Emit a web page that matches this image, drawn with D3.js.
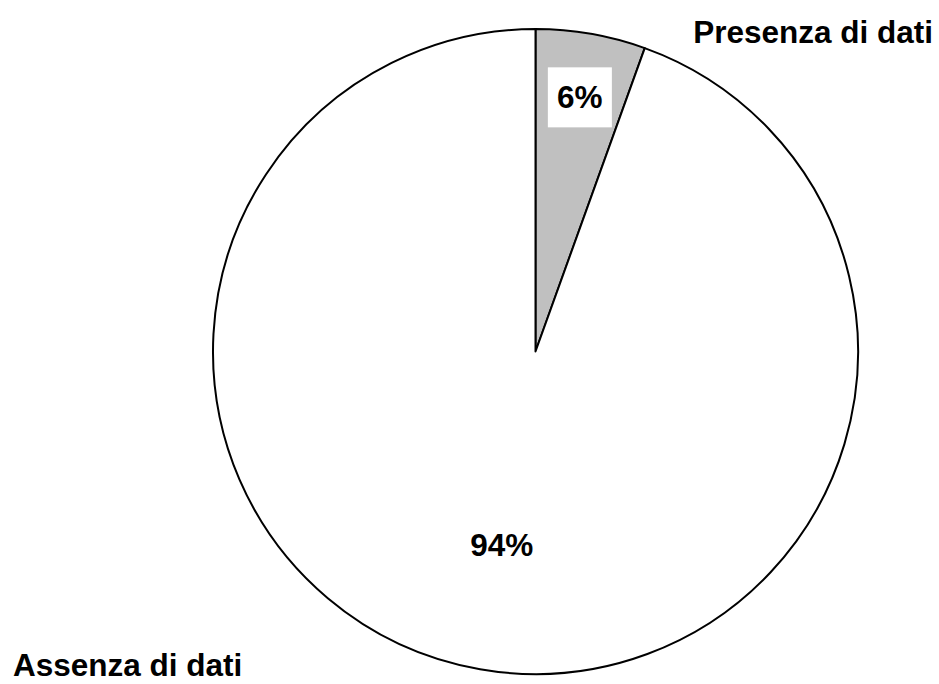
<!DOCTYPE html>
<html><head><meta charset="utf-8">
<script src="https://cdn.jsdelivr.net/npm/d3@7"></script>
<style>html,body{margin:0;padding:0;background:#fff;}svg{display:block;}</style>
</head><body>
<svg id="chart" width="939" height="684"></svg>
<script>
const categories = ["Presenza di dati", "Assenza di dati"];
const values = [5.5, 94.5];
const pctLabels = ["6%", "94%"];
const colors = ["#c0c0c0", "#ffffff"];

const svg = d3.select("#chart");
const cx = 535.5, cy = 351.5, r = 322.5;
const g = svg.append("g").attr("transform", `translate(${cx},${cy})`);

const pie = d3.pie().sort(null).value(d => d)(values);
const arc = d3.arc().innerRadius(0).outerRadius(r);

g.selectAll("path.slice").data(pie).enter().append("path")
  .attr("class", "slice")
  .attr("d", arc)
  .attr("fill", (d, i) => colors[i])
  .attr("stroke", "#000").attr("stroke-width", 2).attr("stroke-linejoin", "round");

const labelFactor = [0.8, 0.61];
const font = "'Liberation Sans', Arial, sans-serif";
pie.forEach((d, i) => {
  const a = (d.startAngle + d.endAngle) / 2;
  const rr = r * labelFactor[i];
  const x = rr * Math.sin(a), y = -rr * Math.cos(a);
  const t = g.append("text").attr("x", x).attr("y", y)
    .attr("text-anchor", "middle").attr("dominant-baseline", "central")
    .attr("font-family", font).attr("font-weight", "bold").attr("font-size", 31.5)
    .text(pctLabels[i]);
  if (i === 0) {
    g.insert("rect", () => t.node())
      .attr("x", x - 32).attr("y", y - 30).attr("width", 64).attr("height", 60)
      .attr("fill", "#fff");
  }
});

svg.append("text").attr("x", 933).attr("y", 43).attr("text-anchor", "end")
  .attr("font-family", font).attr("font-weight", "bold").attr("font-size", 31.5)
  .text(categories[0]);
svg.append("text").attr("x", 13).attr("y", 676).attr("text-anchor", "start")
  .attr("font-family", font).attr("font-weight", "bold").attr("font-size", 31.5)
  .text(categories[1]);
</script>
</body></html>
